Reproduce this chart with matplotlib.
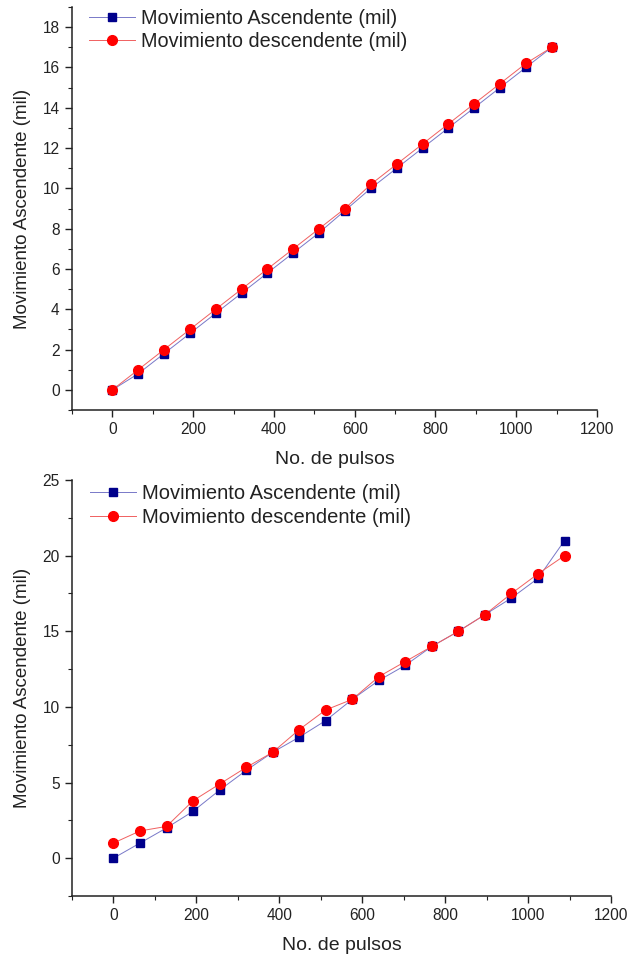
import matplotlib
matplotlib.use("Agg")
import matplotlib.pyplot as plt
from matplotlib.ticker import MultipleLocator

plt.rcParams['font.family'] = ['Liberation Sans', 'DejaVu Sans']

pulsos = [0, 64, 128, 192, 256, 320, 384, 448, 512, 576, 640, 704, 768, 832, 896, 960, 1024, 1088]

asc_top = [0, 0.8, 1.8, 2.8, 3.8, 4.8, 5.8, 6.8, 7.8, 8.9, 10.0, 11.0, 12.0, 13.0, 14.0, 15.0, 16.0, 17.0]
desc_top = [0, 1.0, 2.0, 3.0, 4.0, 5.0, 6.0, 7.0, 8.0, 9.0, 10.2, 11.2, 12.2, 13.2, 14.2, 15.2, 16.2, 17.0]

asc_bot = [0, 1.0, 2.0, 3.1, 4.5, 5.8, 7.0, 8.0, 9.1, 10.5, 11.75, 12.75, 14.0, 15.0, 16.1, 17.2, 18.5, 21.0]
desc_bot = [1.0, 1.8, 2.1, 3.8, 4.9, 6.0, 7.0, 8.5, 9.8, 10.5, 12.0, 13.0, 14.0, 15.0, 16.1, 17.5, 18.8, 20.0]

lbl_asc = "Movimiento Ascendente (mil)"
lbl_desc = "Movimiento descendente (mil)"
xlabel = "No. de pulsos"
ylabel = "Movimiento Ascendente (mil)"

W, H = 632, 958
fig = plt.figure(figsize=(W / 100, H / 100), dpi=100)

def box(l, r, t, b):
    return [l / W, 1 - b / H, (r - l) / W, (b - t) / H]

ax1 = fig.add_axes(box(72, 597, 7, 410))
ax2 = fig.add_axes(box(72, 611, 480, 896))

blue = '#00008B'
red = '#FF0000'
txt = '#222222'

def style(ax, ymin, ymax, ymaj, ymin_step):
    ax.set_xlim(-100, 1200)
    ax.set_ylim(ymin, ymax)
    ax.xaxis.set_major_locator(MultipleLocator(200))
    ax.xaxis.set_minor_locator(MultipleLocator(100))
    ax.yaxis.set_major_locator(MultipleLocator(ymaj))
    ax.yaxis.set_minor_locator(MultipleLocator(ymin_step))
    for s in ['top', 'right']:
        ax.spines[s].set_visible(False)
    for s in ['left', 'bottom']:
        ax.spines[s].set_linewidth(1.1)
        ax.spines[s].set_color(txt)
    ax.tick_params(which='major', direction='out', length=5, width=1.0, labelsize=11.2,
                   colors=txt, labelcolor=txt, pad=4)
    ax.tick_params(which='minor', direction='out', length=3, width=0.8, colors=txt)
    ax.set_xlabel(xlabel, fontsize=14, color=txt, labelpad=10)
    ax.set_ylabel(ylabel, fontsize=13.5, color=txt, labelpad=8)

def plot(ax, a, d, fs, anchor_y):
    ax.plot(pulsos, a, color='#7878c8', lw=0.7, marker='s', ms=5.5,
            mfc=blue, mec=blue, label=lbl_asc, zorder=3)
    ax.plot(pulsos, d, color='#f06060', lw=0.7, marker='o', ms=7,
            mfc=red, mec=red, label=lbl_desc, zorder=4)
    leg = ax.legend(loc='upper left', frameon=False, fontsize=fs, handlelength=2.3,
                    handletextpad=0.3, labelspacing=0.22, borderaxespad=0.0,
                    borderpad=0.0, bbox_to_anchor=(0.033, anchor_y))
    for t in leg.get_texts():
        t.set_color(txt)

plot(ax1, asc_top, desc_top, 14.3, 0.995)
style(ax1, -1, 19, 2, 1)
plot(ax2, asc_bot, desc_bot, 14.5, 0.99)
style(ax2, -2.5, 25, 5, 2.5)

fig.savefig('out.png', dpi=100)
